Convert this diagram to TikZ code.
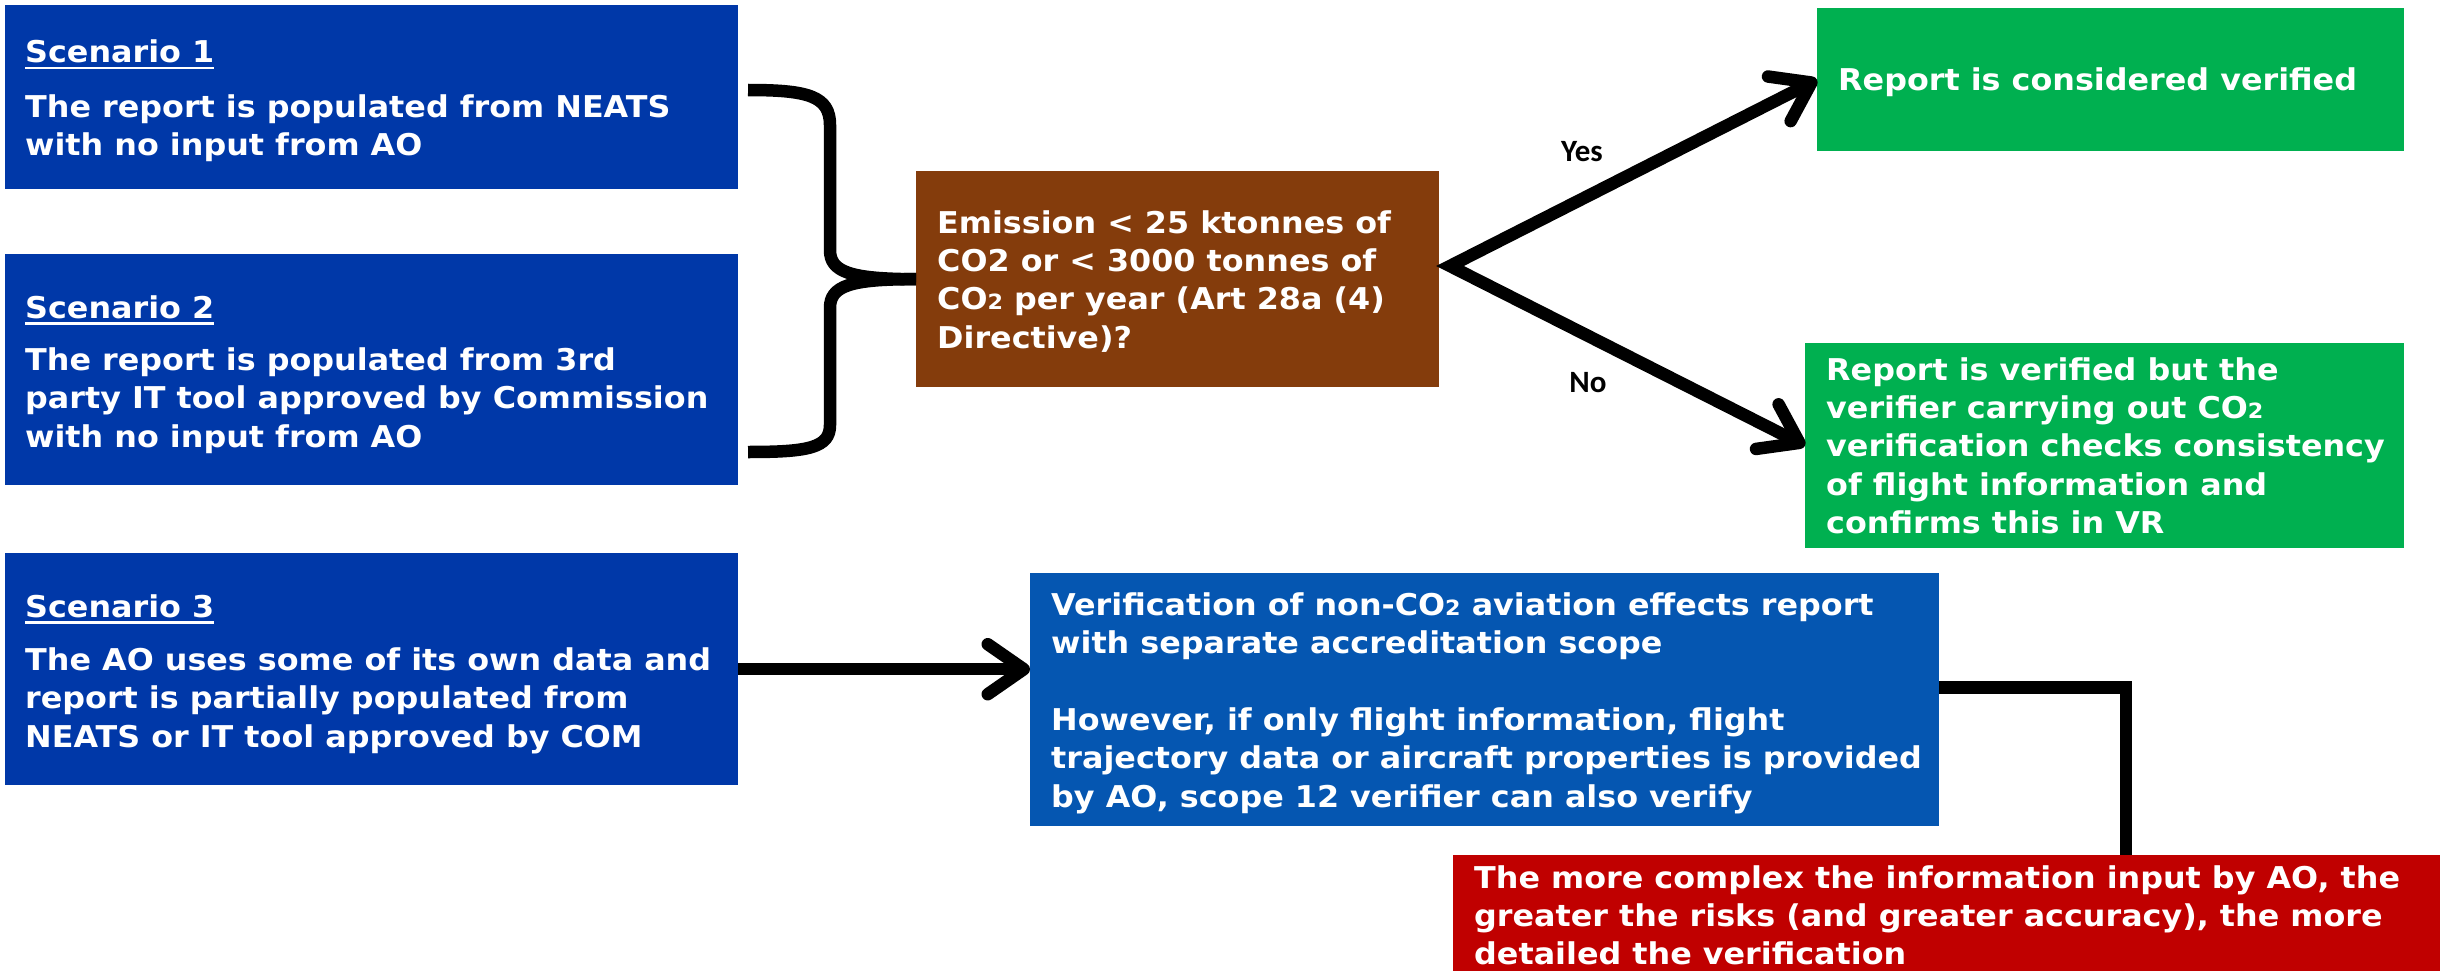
\documentclass[tikz,border=0pt]{standalone}
\usepackage{fontspec}
\newfontfamily\vfont{DejaVu Sans}[FakeStretch=1.06]
\newfontfamily\cfont{Carlito}
\usetikzlibrary{arrows.meta,calc}
\definecolor{scblue}{HTML}{0038A8}
\definecolor{lblue}{HTML}{0556B1}
\definecolor{brownbox}{HTML}{843C0C}
\definecolor{gbox}{HTML}{00B050}
\definecolor{rbox}{HTML}{C00000}
\newcommand\ml[1]{\vtop{\halign{##\hfil\cr#1\crcr}}}
\newcommand\ulx[1]{\setbox0\hbox{#1}\rlap{\rule[-6.5pt]{\wd0}{2.7pt}}\box0}
\newcommand\subtwo{{\fontsize{21}{21}\selectfont 2}}
\begin{document}
\begin{tikzpicture}[x=1pt,y=-1pt,
  box/.style={draw=none, inner sep=0pt, anchor=north west},
  txt/.style={text=white, inner sep=0pt, anchor=base west, font=\vfont\bfseries\fontsize{30}{38.4}\selectfont},
  conn/.style={line width=12.5pt, draw=black},
  barb/.tip={Straight Barb[length=36pt,width=50pt,round]},
  lbl/.style={font=\cfont\bfseries\fontsize{31}{31}\selectfont, inner sep=0pt, text=black}]
\useasboundingbox (0,0) rectangle (2440,971);
% boxes
\node[box, fill=scblue, minimum width=733pt, minimum height=184pt] (s1) at (5,5) {};
\node[box, fill=scblue, minimum width=733pt, minimum height=231pt] (s2) at (5,254) {};
\node[box, fill=scblue, minimum width=733pt, minimum height=232pt] (s3) at (5,553) {};
\node[box, fill=brownbox, minimum width=523pt, minimum height=216pt] (dec) at (916,171) {};
\node[box, fill=gbox, minimum width=587pt, minimum height=143pt] (g1) at (1817,8) {};
\node[box, fill=gbox, minimum width=599pt, minimum height=205pt] (g2) at (1805,343) {};
\node[box, fill=lblue, minimum width=909pt, minimum height=253pt] (b2) at (1030,573) {};
\node[box, fill=rbox, minimum width=1000pt, minimum height=130pt] (red) at (1453,855) {};
% texts
\node[txt] (s1t) at (25,63) {\ml{\ulx{Scenario 1}\cr\noalign{\vskip16pt}The report is populated from NEATS\cr with no input from AO}};
\node[txt] (s2t) at (25,318) {\ml{\ulx{Scenario 2}\cr\noalign{\vskip14pt}The report is populated from 3rd\cr party IT tool approved by Commission\cr with no input from AO}};
\node[txt] (s3t) at (25,617) {\ml{\ulx{Scenario 3}\cr\noalign{\vskip15pt}The AO uses some of its own data and\cr report is partially populated from\cr NEATS or IT tool approved by COM}};
\node[txt] (dect) at (937,233) {\ml{Emission < 25 ktonnes of\cr CO2 or < 3000 tonnes of\cr CO\subtwo{} per year (Art 28a (4)\cr Directive)?}};
\node[txt] (g1t) at (1838,91) {Report is considered verified};
\node[txt] (g2t) at (1826,380) {\ml{Report is verified but the\cr verifier carrying out CO\subtwo\cr verification checks consistency\cr of flight information and\cr confirms this in VR}};
\node[txt] (b2t) at (1051,615) {\ml{Verification of non-CO\subtwo{} aviation effects report\cr with separate accreditation scope\cr\noalign{\vskip38.4pt}However, if only flight information, flight\cr trajectory data or aircraft properties is provided\cr by AO, scope 12 verifier can also verify}};
\node[txt] (redt) at (1474,888) {\ml{The more complex the information input by AO, the\cr greater the risks (and greater accuracy), the more\cr detailed the verification}};
% labels
\node[lbl] (yes) at (1582,152) {Yes};
\node[lbl] (no) at (1588,383) {No};
% brace
\draw[conn] (748,90) .. controls (808,90) and (830,96) .. (830,125) -- (830,250) .. controls (830,272) and (850,279) .. (dec.west);
\draw[conn] (dec.west) .. controls (850,279) and (830,286) .. (830,308) -- (830,425) .. controls (830,448) and (808,452) .. (748,452);
% decision arrows
\coordinate (split) at (1450,266);
\draw[conn, line join=miter, barb-barb] (g1.west) -- (split) -- (g2.west);
% scenario 3 arrow
\draw[conn, -barb] (s3.east) -- (s3.east -| b2.west);
% elbow
\draw[conn, line join=miter] ($(b2.east)+(0,-12)$) -| ($(red.north west)+(673,0)$);
\end{tikzpicture}
\end{document}
